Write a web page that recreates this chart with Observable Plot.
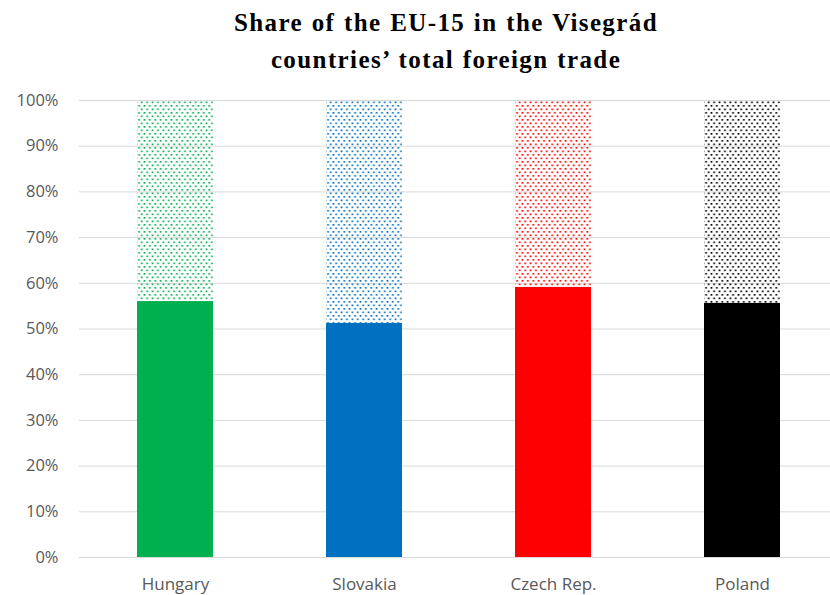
<!DOCTYPE html>
<html>
<head>
<meta charset="utf-8">
<script src="https://cdn.jsdelivr.net/npm/d3@7"></script>
<script src="https://cdn.jsdelivr.net/npm/@observablehq/plot@0.6"></script>
<style>
  html, body { margin: 0; padding: 0; background: #fff; }
  #title { width: 830px; height: 80px; box-sizing: border-box; padding-top: 4px; padding-left: 62px;
    text-align: center; font-family: "Liberation Serif", "DejaVu Serif", serif; font-weight: bold;
    font-size: 25px; line-height: 37px; color: #000; letter-spacing: 1.4px; word-spacing: 1px; }
</style>
</head>
<body>
<div id="title">Share of the EU-15 in the Visegrád<br>countries’ total foreign trade</div>
<div id="chart"></div>
<script>
const countries = ["Hungary", "Slovakia", "Czech Rep.", "Poland"];
const eu15Share = [56.0, 51.2, 59.1, 55.6];
const colors = ["#00B050", "#0070C0", "#FF0000", "#000000"];
const yTicks = [0, 10, 20, 30, 40, 50, 60, 70, 80, 90, 100];

const data = countries.map((c, i) => ({country: c, share: eu15Share[i], color: colors[i], pid: "pat" + i}));

const defsMark = () => {
  const ns = "http://www.w3.org/2000/svg";
  const g = document.createElementNS(ns, "g");
  const defs = document.createElementNS(ns, "defs");
  data.forEach(d => {
    const p = document.createElementNS(ns, "pattern");
    p.setAttribute("id", d.pid);
    p.setAttribute("patternUnits", "userSpaceOnUse");
    p.setAttribute("width", 5.4);
    p.setAttribute("height", 7);
    [[0.5, 0.5], [3.2, 4]].forEach(([x, y]) => {
      const r = document.createElementNS(ns, "rect");
      r.setAttribute("x", x); r.setAttribute("y", y);
      r.setAttribute("width", 1.7); r.setAttribute("height", 1.7);
      r.setAttribute("fill", d.color);
      p.appendChild(r);
    });
    defs.appendChild(p);
  });
  g.appendChild(defs);
  return g;
};

const chart = Plot.plot({
  width: 830,
  height: 515,
  marginTop: 20,
  marginBottom: 38,
  marginLeft: 79,
  marginRight: 0,
  style: {fontFamily: "'Open Sans', 'Liberation Sans', sans-serif", fontSize: "16px", color: "#595959", background: "#fff"},
  x: {domain: countries, range: [79, 838], paddingInner: 0.6, paddingOuter: 0.3, label: null},
  y: {domain: [0, 100], ticks: yTicks, tickFormat: d => d + "%", label: null},
  marks: [
    defsMark,
    Plot.ruleY(yTicks, {stroke: "#d9d9d9", strokeWidth: 1}),
    Plot.barY(data, {x: "country", y1: "share", y2: 100, fill: d => `url(#${d.pid})`}),
    Plot.barY(data, {x: "country", y1: 0, y2: "share", fill: "color"}),
    Plot.axisY({ticks: yTicks, tickFormat: d => d + "%", tickSize: 0, tickPadding: 21, fill: "#595959", fontSize: 16.5}),
    Plot.axisX({tickSize: 0, tickPadding: 20, fill: "#595959", fontSize: 17})
  ]
});
document.getElementById("chart").appendChild(chart);
</script>
</body>
</html>
